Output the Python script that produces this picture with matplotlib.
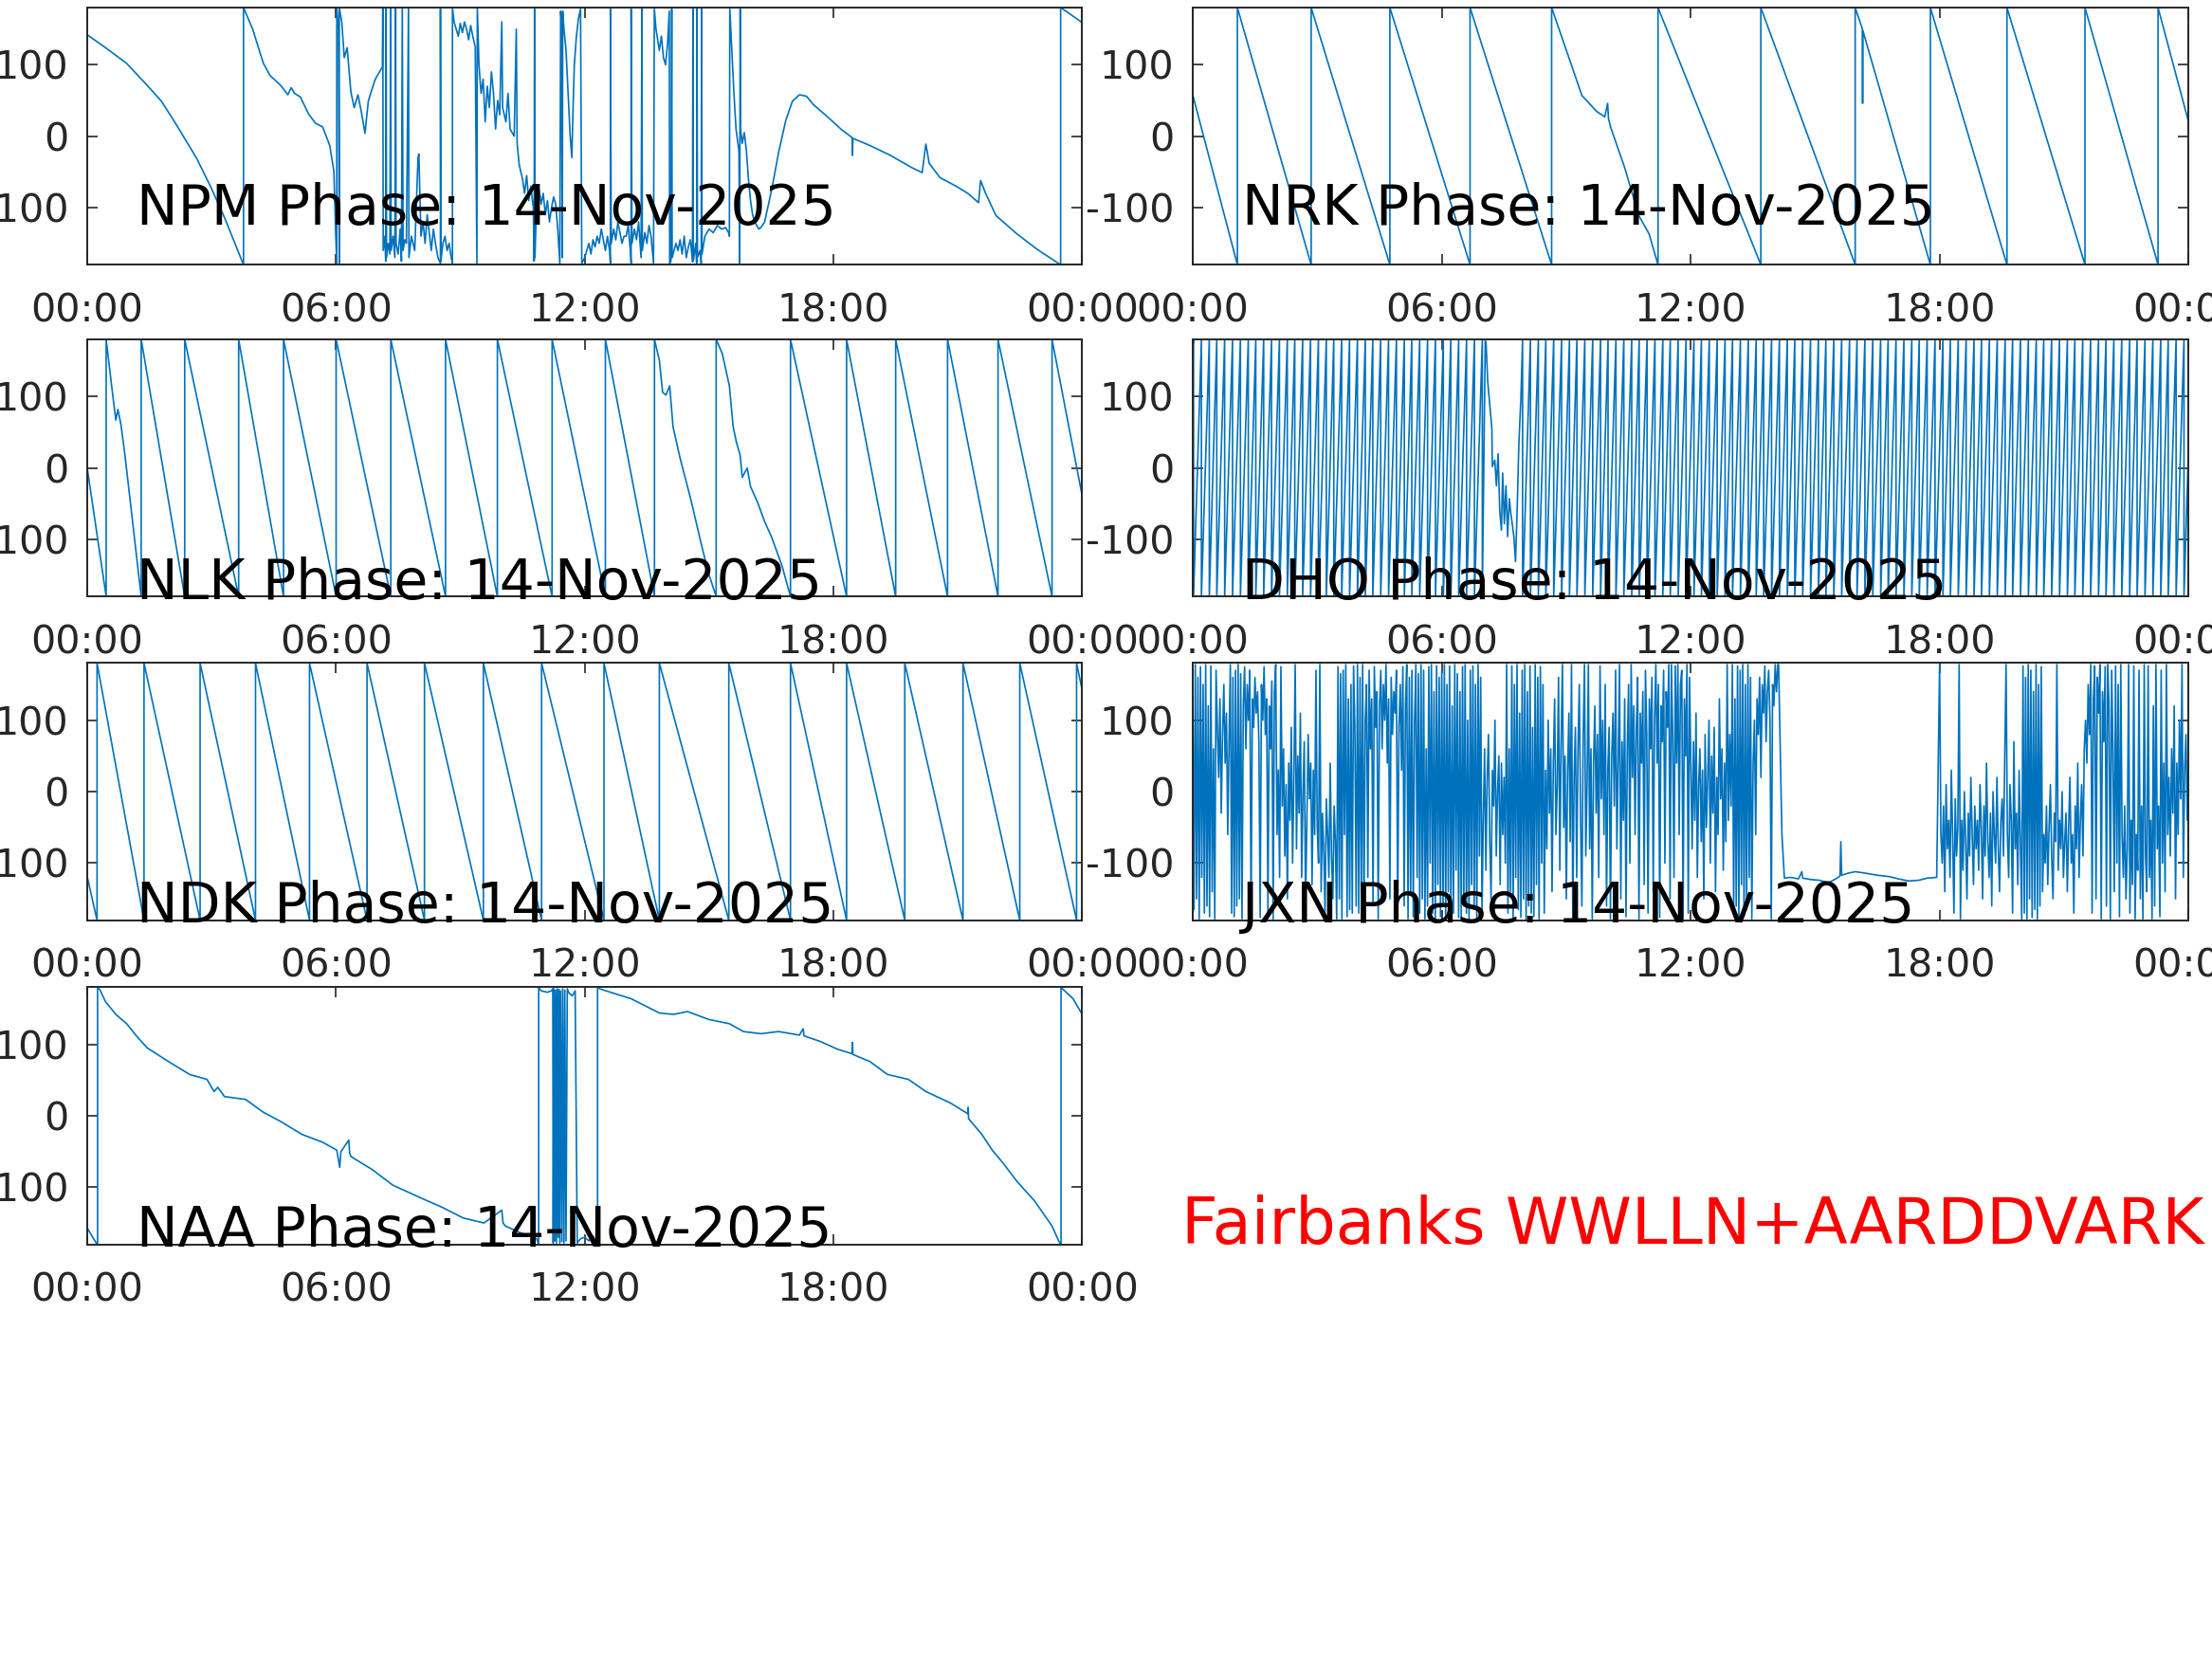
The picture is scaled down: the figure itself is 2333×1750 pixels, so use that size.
import numpy as np
import matplotlib
matplotlib.use('Agg')
import matplotlib.pyplot as plt

plt.rcParams['font.family'] = ['DejaVu Sans']
plt.rcParams['axes.unicode_minus'] = False

# ---------------- data ----------------
hour_ticks = [0, 6, 12, 18, 24]
hour_labels = ['00:00', '06:00', '12:00', '18:00', '00:00']
phase_ticks = [-100, 0, 100]
date_label = '14-Nov-2025'
station_note = 'Fairbanks WWLLN+AARDDVARK'

# NPM: (hour, phase) pairs
npm_points = [
    (0.00, 142), (0.44, 124), (0.95, 102), (1.45, 71), (1.79, 49), (2.13, 18), (2.64, -31),
    (2.98, -71), (3.32, -115), (3.77, -180), (3.77, 180), (3.99, 150), (4.25, 102), (4.41, 85),
    (4.67, 71), (4.84, 58), (4.92, 68), (5.00, 60), (5.14, 55), (5.34, 31), (5.51, 18), (5.68, 13),
    (5.85, -13), (5.95, -49), (5.99, -130), (6.02, -180), (6.02, 180), (6.06, 150), (6.08, -180),
    (6.08, 180), (6.14, 160), (6.20, 110), (6.27, 124), (6.36, 62), (6.44, 40), (6.53, 58),
    (6.61, 35), (6.70, 4), (6.78, 49), (6.87, 66), (6.95, 80), (7.04, 89), (7.12, 97), (7.13, 180),
    (7.14, -160), (7.18, -140), (7.20, -175), (7.21, 180), (7.22, -170), (7.26, -150), (7.30, -165),
    (7.32, 180), (7.33, -160), (7.38, -140), (7.42, -170), (7.44, 180), (7.45, -150), (7.50, -165),
    (7.55, -130), (7.58, -175), (7.60, 180), (7.62, -160), (7.66, -145), (7.70, -150), (7.75, 180),
    (7.76, -170), (7.82, -140), (7.90, -160), (7.98, -30), (8.00, -25), (8.05, -140), (8.10, -120),
    (8.15, -150), (8.20, -110), (8.25, -135), (8.30, -160), (8.35, -130), (8.40, -150), (8.46, -170),
    (8.52, -178), (8.52, 178), (8.53, -175), (8.58, -150), (8.63, -140), (8.68, -160), (8.73, -150),
    (8.78, -170), (8.81, -178), (8.81, 180), (8.85, 160), (8.90, 150), (8.95, 140), (9.00, 158),
    (9.05, 145), (9.10, 160), (9.15, 150), (9.20, 135), (9.25, 155), (9.30, 140), (9.36, 125),
    (9.40, -180), (9.41, 180), (9.45, 100), (9.50, 60), (9.55, 80), (9.60, 20), (9.65, 70),
    (9.70, 40), (9.75, 90), (9.80, 60), (9.85, 10), (9.90, 50), (9.95, 30), (10.00, 160),
    (10.02, 40), (10.10, 20), (10.15, 60), (10.20, 10), (10.30, 0), (10.35, 150), (10.37, -10),
    (10.42, -40), (10.50, -60), (10.55, -80), (10.60, -55), (10.65, -90), (10.70, -70),
    (10.76, -100), (10.78, -175), (10.79, 178), (10.80, -170), (10.84, -90), (10.90, -75),
    (10.95, -95), (11.00, -80), (11.05, -110), (11.10, -90), (11.15, -120), (11.20, -100),
    (11.25, -85), (11.30, -95), (11.35, -130), (11.40, -178), (11.42, 175), (11.44, 160),
    (11.46, -170), (11.47, 175), (11.50, 150), (11.55, 120), (11.60, 60), (11.65, 0), (11.69, -30),
    (11.72, 40), (11.75, 100), (11.80, 140), (11.85, 165), (11.90, 178), (11.93, -178),
    (12.00, -170), (12.05, -160), (12.10, -150), (12.15, -165), (12.20, -145), (12.25, -155),
    (12.30, -140), (12.35, -150), (12.40, -130), (12.45, -145), (12.50, -160), (12.55, -140),
    (12.60, -160), (12.62, -178), (12.62, 178), (12.64, -150), (12.70, -130), (12.75, -145),
    (12.80, -120), (12.85, -135), (12.90, -150), (12.95, -140), (13.00, -140), (13.05, -125),
    (13.10, -160), (13.12, -178), (13.12, 178), (13.14, -150), (13.20, -130), (13.25, -145),
    (13.30, -120), (13.36, -170), (13.38, 178), (13.39, -160), (13.45, -135), (13.50, -150),
    (13.55, -125), (13.60, -140), (13.66, -178), (13.68, 178), (13.72, 150), (13.80, 120),
    (13.85, 140), (13.90, 110), (13.95, 100), (14.00, 130), (14.04, 175), (14.05, -178),
    (14.08, -175), (14.10, 178), (14.11, -170), (14.20, -150), (14.25, -160), (14.30, -145),
    (14.35, -165), (14.40, -140), (14.45, -170), (14.50, -155), (14.55, -145), (14.60, -176),
    (14.61, 178), (14.62, -175), (14.68, -150), (14.70, -178), (14.71, 178), (14.72, -170),
    (14.78, -160), (14.81, -178), (14.82, 178), (14.83, -165), (14.90, -140), (15.00, -130),
    (15.10, -135), (15.20, -125), (15.30, -130), (15.40, -128), (15.47, -135), (15.49, -140),
    (15.50, 178), (15.55, 120), (15.60, 60), (15.65, 10), (15.72, -20), (15.74, -178),
    (15.75, 178), (15.76, 10), (15.80, -10), (15.85, 5), (15.90, -20), (15.95, -60), (16.00, -90),
    (16.05, -110), (16.10, -120), (16.20, -130), (16.25, -128), (16.34, -120), (16.51, -75),
    (16.68, -22), (16.85, 22), (17.01, 49), (17.18, 58), (17.35, 56), (17.52, 44), (17.86, 27),
    (18.20, 9), (18.45, -2), (18.46, -27), (18.47, -3), (18.88, -13), (19.38, -27), (19.89, -44),
    (20.14, -51), (20.23, -11), (20.31, -38), (20.57, -58), (20.99, -71), (21.24, -80),
    (21.50, -93), (21.55, -62), (21.67, -80), (21.92, -111), (22.43, -137), (22.93, -159),
    (23.48, -180), (23.48, 180), (23.61, 175), (24.00, 159),
]

# NRK: descending sawtooth, wrap hours + a few inner points
nrk_wraps = [1.077, 2.855, 4.752, 6.684, 8.650, 11.214, 13.692, 15.966, 17.778, 19.624, 21.504, 23.265]
nrk_start = 58
nrk_end = 20
nrk_inner = [(9.38, 57), (9.73, 35), (9.93, 27), (10.00, 46), (10.02, 25), (10.07, 13),
             (10.41, -44), (10.75, -111), (11.00, -137), (16.14, 150), (16.145, 46), (16.15, 148)]

# NLK
nlk_wraps = [0.457, 1.302, 2.351, 3.653, 4.736, 6.004, 7.323, 8.643, 9.894, 11.214, 12.499,
             13.683, 15.171, 16.964, 18.317, 19.501, 20.753, 21.970, 23.273]
nlk_start = 0
nlk_end = -39
nlk_inner = [(0.57, 124), (0.69, 67), (0.74, 82), (0.81, 62), (0.91, 18),
             (13.80, 151), (13.88, 106), (13.96, 102), (14.05, 115), (14.13, 58), (14.30, 14),
             (14.56, -44), (14.81, -106), (14.98, -146),
             (15.32, 160), (15.49, 115), (15.58, 58), (15.66, 36), (15.75, 18), (15.80, -13),
             (15.92, 0), (16.00, -26), (16.17, -48), (16.34, -75), (16.51, -97), (16.76, -137)]

# NDK
ndk_wraps = [0.237, 1.370, 2.723, 4.059, 5.362, 6.749, 8.135, 9.556, 10.960, 12.465, 13.801,
             15.476, 16.964, 18.317, 19.721, 21.125, 22.495, 23.865]
ndk_start = -119
ndk_end = 142
ndk_inner = []

# DHO: ascending sawtooth, wrap hours
dho_wraps_before = [0.02, 0.21, 0.40, 0.58, 0.77, 0.96, 1.15, 1.34, 1.52, 1.71, 1.90, 2.09, 2.28,
                    2.46, 2.65, 2.84, 3.03, 3.22, 3.40, 3.59, 3.78, 3.97, 4.16, 4.34, 4.53, 4.72,
                    4.91, 5.10, 5.28, 5.47, 5.66, 5.85, 6.04, 6.22, 6.41, 6.60, 6.79, 6.98]
dho_gap = [(7.05, 178), (7.07, 175), (7.11, 121), (7.17, 82), (7.21, 55), (7.22, 2), (7.28, 11),
           (7.32, -25), (7.36, 20), (7.40, -60), (7.44, -87), (7.47, -7), (7.51, -78), (7.55, -25),
           (7.59, -96), (7.63, -43), (7.66, -60), (7.70, -78), (7.74, -96), (7.78, -131),
           (7.82, -56), (7.86, 33), (7.91, 99)]
dho_wraps_after = [7.95, 8.14, 8.33, 8.51, 8.70, 8.89, 9.08, 9.26, 9.45, 9.64, 9.83, 10.01, 10.20,
                   10.39, 10.58, 10.76, 10.95, 11.14, 11.33, 11.51, 11.70, 11.89, 12.08, 12.26,
                   12.45, 12.64, 12.83, 13.01, 13.20, 13.39, 13.58, 13.76, 13.95, 14.14, 14.33,
                   14.51, 14.70, 14.89, 15.08, 15.26, 15.45, 15.64, 15.83, 16.01, 16.20, 16.39,
                   16.58, 16.76, 16.95, 17.14, 17.33, 17.51, 17.70, 17.89, 18.08, 18.26, 18.45,
                   18.64, 18.83, 19.01, 19.20, 19.39, 19.58, 19.76, 19.95, 20.14, 20.33, 20.51,
                   20.70, 20.89, 21.08, 21.26, 21.45, 21.64, 21.83, 22.01, 22.20, 22.39, 22.58,
                   22.76, 22.95, 23.14, 23.33, 23.51, 23.70, 23.89]
dho_start = 170
dho_end = 30

# JXN: noisy part 00:00-14:06 (regular samples), quiet part, noisy part 18:00-24:00
jxn_noisy_a = [
    170, -165, 178, -150, 160, -178, 175, -120, 150, -170, 178, -160, 120, -175, 176, -140,
    60, -178, 170, 90, 20, 130, -30, 80, 150, 40, 110, -60, 70, 178, -170, 160,
    -175, 170, -160, 178, -150, 165, -178, 120, 175, 60, 150, 100, 170, -178, 130, 90,
    160, 110, 140, 70, -176, 150, 100, 175, 80, 130, -170, 120, 60, 155, -178, 140,
    178, -60, 30, -120, 175, -20, 60, -90, 10, -150, 40, -40, 90, -100, 20, 178,
    -80, 50, -30, 110, -120, 0, 70, -160, -40, 80, -10, 40, -130, 30, -60, 170,
    -50, -100, 178, -140, -30, -80, -170, -10, -60, -120, 40, -90, -150, -20, -70, -178,
    175, -150, 165, -178, 170, -60, 178, -175, 130, -165, 150, -170, 176, 90, -160, 178,
    -170, 160, -140, 178, -178, 100, 150, -120, 170, 60, 130, -160, 175, 90, 140, -178,
    120, 170, 60, 150, 100, 178, 40, 130, -150, 160, 80, 140, 110, 170, -170, 90,
    150, 30, 175, -160, 120, 178, -178, 160, -140, 170, -175, 100, 178, -120, 165, -170,
    178, -150, 170, -178, 60, -160, 175, -100, 178, -170, 140, -178, 176, -130, 160, -175,
    170, -160, 178, -175, 150, -140, 176, -178, 120, -170, 178, -110, 165, -176, 140, -178,
    175, -150, 178, -170, 100, -178, 170, -130, 176, -160, 150, -178, 178, -90, 160, -170,
    -40, 60, -110, 20, 80, -70, -150, 30, -20, 100, -90, 0, 50, -130, 40, -60,
    20, -100, 178, -170, 60, -140, 176, -178, 150, -120, 178, -165, 110, -176, 170, -150,
    178, -178, 140, -160, 176, -170, 90, -175, 178, -130, 160, -178, 175, -100, 150, -170,
    30, -80, 100, -30, 60, -140, 40, 130, -60, 10, 160, -110, 70, 178, -50, 50,
    -150, 30, 110, -70, 178, -178, 20, 90, -120, 60, 150, -40, -160, 80, 178, -90,
    10, 178, -80, 60, -178, 40, 120, -30, 80, -120, 176, -10, 100, -60, 150, -160,
    30, 90, -178, 50, 110, -20, 170, -80, 40, 178, -150, 70, -40, 130, -175, 60,
    150, -100, 178, 20, 120, -60, 90, 160, -178, 110, 40, 140, -130, 170, 80, -170,
    130, 60, 160, -140, 100, 178, 40, 150, -176, 120, 70, 170, -100, 140, 90, 178,
    -150, 178, 80, -120, 176, 40, 178, -60, 150, 170, -178, 130, 50, 178, -170, 160,
    40, -80, 70, -40, 110, -120, 10, 60, -70, 30, -150, 80, -50, 20, 100, -100,
    50, -30, 90, -140, 20, -60, 130, -10, 60, -110, 40, -70, 178, -40, 80, -20,
    178, -170, 130, -160, 176, -178, 170, -130, 178, -175, 150, -165, 178, -120, 160, -178,
    40, 100, -60, 130, 80, 160, 20, 150, 110, 176, 70, 140, 170, 100, -178, 150, 120, 178, 140, 178,
]
jxn_quiet = [(14.12, 178), (14.20, -60), (14.26, -121), (14.40, -120), (14.60, -122), (14.68, -112),
             (14.70, -121), (14.90, -123), (15.10, -124), (15.30, -127), (15.37, -126), (15.50, -122),
             (15.60, -118), (15.62, -70), (15.64, -117), (15.80, -114), (15.97, -112), (16.20, -114),
             (16.50, -117), (16.80, -119), (17.00, -122), (17.25, -125), (17.50, -124), (17.70, -121),
             (17.93, -120)]
jxn_noisy_c = [
    178, -60, -100, -20, -140, 10, -80, -40, -120, 30, -60, -170, -10, -90, -50, 178,
    -178, -40, -110, 0, -70, -150, -30, -90, 20, -60, -130, -20, -80, -40, -110, 10,
    -50, -150, -20, -90, 40, -70, -120, -30, -160, 0, -60, -100, 20, -80, -140, -40,
    -10, -90, 50, 178, -60, -120, 10, -40, -170, 70, -80, -30, -130, 30, -70, -178,
    176, -170, 160, -178, 178, -150, 170, -176, 140, -165, 178, -178, 150, -160, 175, -140,
    -60, -100, -20, -130, -50, 10, -90, -150, -30, -70, 178, -110, -40, -80, 0, -120,
    -70, -30, -140, -50, 20, -100, -60, -170, -20, -80, 40, -120, -40, 10, -90, 60,
    100, 40, 150, 80, 178, -170, 130, 176, -150, 160, 110, 178, -178, 140, 70, 175,
    -160, 178, 120, -178, 170, 60, -140, 176, -100, 150, -175, 178, -60, -120, -20, -150,
    -80, 178, -170, -40, -130, 176, -178, -60, -110, 170, -150, -20, -178, 178, -90, -140,
    176, -120, -40, -178, 120, -160, 178, -80, -20, -175, 170, -100, 40, -140, 178, -60,
    20, -90, 60, -30, 120, -150, 40, -60, 100, -10, 178, -120, 30, 80, -40, 20,
]

# NAA
naa_points = [
    (0.00, -157), (0.237, -180), (0.25, -180), (0.25, 180), (0.30, 177), (0.44, 160), (0.69, 142),
    (0.95, 129), (1.20, 111), (1.45, 95), (1.96, 76), (2.47, 58), (2.89, 51), (3.06, 34), (3.15, 40),
    (3.31, 27), (3.82, 23), (4.25, 5), (4.67, -8), (5.18, -26), (5.68, -37), (6.02, -48), (6.09, -72),
    (6.12, -50), (6.31, -34), (6.33, -52), (6.36, -57), (6.87, -75), (7.37, -97), (8.05, -115),
    (8.56, -128), (9.07, -143), (9.57, -150), (10.00, -132), (10.03, -150), (10.08, -154),
    (10.42, -163), (10.84, -172), (10.89, -180), (10.89, 180), (10.95, 175), (11.10, 173),
    (11.20, 175), (11.23, 178), (11.24, -178), (11.26, 178), (11.28, -175), (11.30, 176),
    (11.32, -178), (11.34, 178), (11.36, -170), (11.38, 177), (11.40, -178), (11.42, 175),
    (11.45, -176), (11.47, 178), (11.50, -178), (11.52, 176), (11.55, -175), (11.58, 178),
    (11.62, 172), (11.70, 168), (11.77, 175), (11.82, -178), (11.90, -172), (12.00, -170),
    (12.10, -175), (12.20, -168), (12.28, -176), (12.31, -180), (12.31, 180), (12.36, 178),
    (12.62, 173), (13.12, 164), (13.80, 144), (14.14, 142), (14.48, 146), (14.99, 135),
    (15.49, 129), (15.83, 118), (16.25, 115), (16.68, 118), (17.18, 113), (17.27, 122),
    (17.29, 112), (17.69, 104), (18.11, 93), (18.45, 87), (18.46, 103), (18.47, 86), (18.88, 76),
    (19.30, 58), (19.81, 51), (20.23, 34), (20.82, 18), (21.24, 3), (21.25, 12), (21.26, -4),
    (21.58, -26), (21.83, -48), (22.09, -66), (22.43, -92), (22.85, -119), (23.27, -154),
    (23.44, -176), (23.49, -180), (23.49, 180), (23.54, 177), (23.78, 164), (24.00, 142),
]

# text heights (phase units) of the panel captions
caption_low = -124
caption_bottom = -183


def sawtooth_series(start, wraps, end, inner, descending=True):
    lo, hi = (-180, 180) if descending else (180, -180)
    pts = [(0.0, start)]
    for w in wraps:
        pts.append((w, lo))
        pts.append((w, hi))
    pts.extend(inner)
    pts.append((24.0, end))
    pts = sorted(pts, key=lambda p: p[0])
    return [p[0] for p in pts], [p[1] for p in pts]


def split(points):
    return [p[0] for p in points], [p[1] for p in points]


npm_h, npm_v = split(npm_points)
nrk_h, nrk_v = sawtooth_series(nrk_start, nrk_wraps, nrk_end, nrk_inner)
nlk_h, nlk_v = sawtooth_series(nlk_start, nlk_wraps, nlk_end, nlk_inner)
ndk_h, ndk_v = sawtooth_series(ndk_start, ndk_wraps, ndk_end, ndk_inner)
dho_h, dho_v = sawtooth_series(dho_start, dho_wraps_before + dho_wraps_after, dho_end, dho_gap,
                               descending=False)
jxn_h = list(np.linspace(0.0, 14.10, len(jxn_noisy_a))) + [p[0] for p in jxn_quiet] + \
    list(np.linspace(18.0, 24.0, len(jxn_noisy_c)))
jxn_v = list(jxn_noisy_a) + [p[1] for p in jxn_quiet] + list(jxn_noisy_c)
naa_h, naa_v = split(naa_points)

panels = [
    ('NPM', npm_h, npm_v, 0, 0, caption_low),
    ('NRK', nrk_h, nrk_v, 0, 1, caption_low),
    ('NLK', nlk_h, nlk_v, 1, 0, caption_bottom),
    ('DHO', dho_h, dho_v, 1, 1, caption_bottom),
    ('NDK', ndk_h, ndk_v, 2, 0, caption_bottom),
    ('JXN', jxn_h, jxn_v, 2, 1, caption_bottom),
    ('NAA', naa_h, naa_v, 3, 0, caption_bottom),
]

# ---------------- layout ----------------
fig = plt.figure(figsize=(11.665, 8.75), dpi=200)
col_x = [0.03943, 0.5392]
col_w = [0.4498, 0.4502]
row_y = [0.8404, 0.6404, 0.4453, 0.2499]
row_h = 0.155

line_color = '#0072BD'
axis_gray = (0.15, 0.15, 0.15)

for name, h, v, r, c, cap_y in panels:
    ax = fig.add_axes([col_x[c], row_y[r], col_w[c], row_h])
    ax.plot(h, v, color=line_color, lw=0.6)
    ax.set_xlim(0, 24)
    ax.set_ylim(-180, 180)
    ax.set_xticks(hour_ticks)
    ax.set_xticklabels(hour_labels)
    ax.set_yticks(phase_ticks)
    ax.tick_params(direction='in', length=3.8, width=0.6, top=True, right=True,
                   labelsize=14.8, color=axis_gray, labelcolor=axis_gray)
    ax.tick_params(axis='x', pad=10.5)
    ax.tick_params(axis='y', pad=7)
    for sp in ax.spines.values():
        sp.set_color(axis_gray)
        sp.set_linewidth(0.7)
    ax.text(1.19, cap_y, f'{name} Phase: {date_label}', fontsize=21, color='black',
            ha='left', va='baseline', clip_on=False, zorder=5)

fig.text(0.5342, 0.2503, station_note, color='red', fontsize=24.2, ha='left', va='baseline')

fig.savefig('out.png', dpi=200)
